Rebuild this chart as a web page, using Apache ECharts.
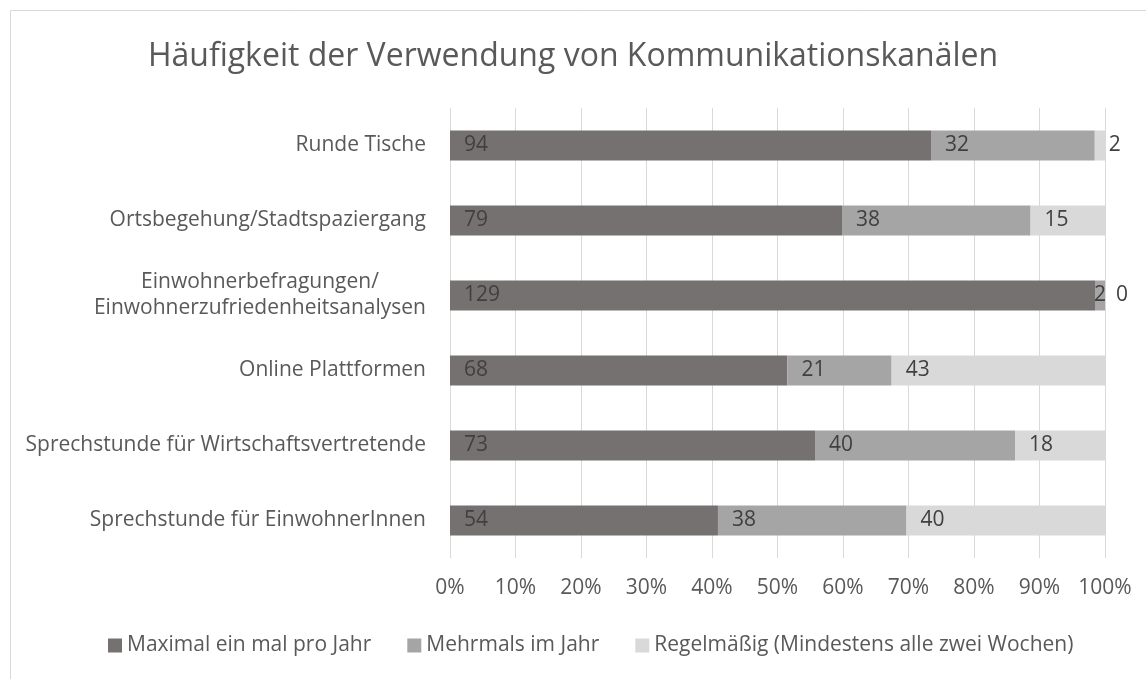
<!DOCTYPE html>
<html>
<head>
<meta charset="utf-8">
<script src="https://cdn.jsdelivr.net/npm/echarts@6/dist/echarts.min.js"></script>
<style>
html,body{margin:0;padding:0;background:#fff;}
#chart{width:1146px;height:679px;}
</style>
</head>
<body>
<div id="chart"></div>
<script>
// Categories, bottom to top (as ECharts draws a category y axis)
const categories = [
  "Sprechstunde für EinwohnerInnen",
  "Sprechstunde für Wirtschaftsvertretende",
  "Online Plattformen",
  "Einwohnerbefragungen/\nEinwohnerzufriedenheitsanalysen",
  "Ortsbegehung/Stadtspaziergang",
  "Runde Tische"
];
const seriesNames = [
  "Maximal ein mal pro Jahr",
  "Mehrmals im Jahr",
  "Regelmäßig (Mindestens alle zwei Wochen)"
];
const maxEinmal   = [54, 73, 68, 129, 79, 94];
const mehrmals    = [38, 40, 21, 2, 38, 32];
const regelmaessig = [40, 18, 43, 0, 15, 2];
const xTicks = [0, 10, 20, 30, 40, 50, 60, 70, 80, 90, 100];

const colors = ["#767171", "#A5A5A5", "#D9D9D9"];
const FONT = "Open Sans";
const TXT = "#595959";

const raw = [maxEinmal, mehrmals, regelmaessig];
const totals = categories.map((c, i) => raw.reduce((s, arr) => s + arr[i], 0));

const series = raw.map((arr, si) => ({
  name: seriesNames[si],
  type: "bar",
  stack: "total",
  barWidth: "40%",
  itemStyle: { color: colors[si] },
  label: {
    show: true,
    position: "insideLeft",
    distance: 14,
    color: "#404040",
    fontFamily: FONT,
    fontSize: 21,
    formatter: p => String(arr[p.dataIndex])
  },
  data: arr.map((v, i) => {
    const item = { value: v / totals[i] * 100 };
    // narrow middle segment of the survey bar: label sits centred on it
    if (si === 1 && v / totals[i] < 0.03 && regelmaessig[i] === 0) {
      item.label = { position: "inside", distance: 0 };
    }
    if (si === 2 && v === 0) {
      item.label = { position: "insideLeft", distance: 11 };
    }
    return item;
  })
}));

const chart = echarts.init(document.getElementById("chart"), null, { renderer: "canvas" });
chart.setOption({
  animation: false,
  backgroundColor: "#fff",
  graphic: [{
    type: "rect",
    left: 8, top: 8,
    shape: { width: 1300, height: 800 },
    style: { fill: "none", stroke: "#D9D9D9", lineWidth: 1 },
    silent: true, z: -1
  }],
  title: {
    text: "Häufigkeit der Verwendung von Kommunikationskanälen",
    left: "center",
    top: 36,
    textStyle: { fontFamily: FONT, fontWeight: 400, fontSize: 32, color: TXT }
  },
  legend: {
    left: 103,
    top: 630,
    itemWidth: 14,
    itemHeight: 14,
    itemGap: 36,
    icon: "rect",
    textStyle: { fontFamily: FONT, fontSize: 21, color: TXT },
    data: seriesNames
  },
  grid: { left: 450, right: 41, top: 108, bottom: 121, containLabel: false },
  xAxis: {
    type: "value",
    min: xTicks[0],
    max: xTicks[xTicks.length - 1],
    interval: xTicks[1] - xTicks[0],
    axisLine: { show: false },
    axisTick: { show: false },
    splitLine: { show: true, lineStyle: { color: "#D9D9D9", width: 1 } },
    axisLabel: {
      margin: 20,
      fontFamily: FONT, fontSize: 21, color: TXT,
      formatter: v => v + "%"
    }
  },
  yAxis: {
    type: "category",
    data: categories,
    axisLine: { show: false },
    axisTick: { show: false },
    axisLabel: {
      margin: 24,
      fontFamily: FONT, fontSize: 21, color: TXT,
      lineHeight: 26,
      formatter: v => v.split("\n").map(l => "{c|" + l + "}").join("\n"),
      rich: { c: { align: "center", fontFamily: FONT, fontSize: 21, color: TXT, lineHeight: 26 } }
    }
  },
  series: series
});
</script>
</body>
</html>
